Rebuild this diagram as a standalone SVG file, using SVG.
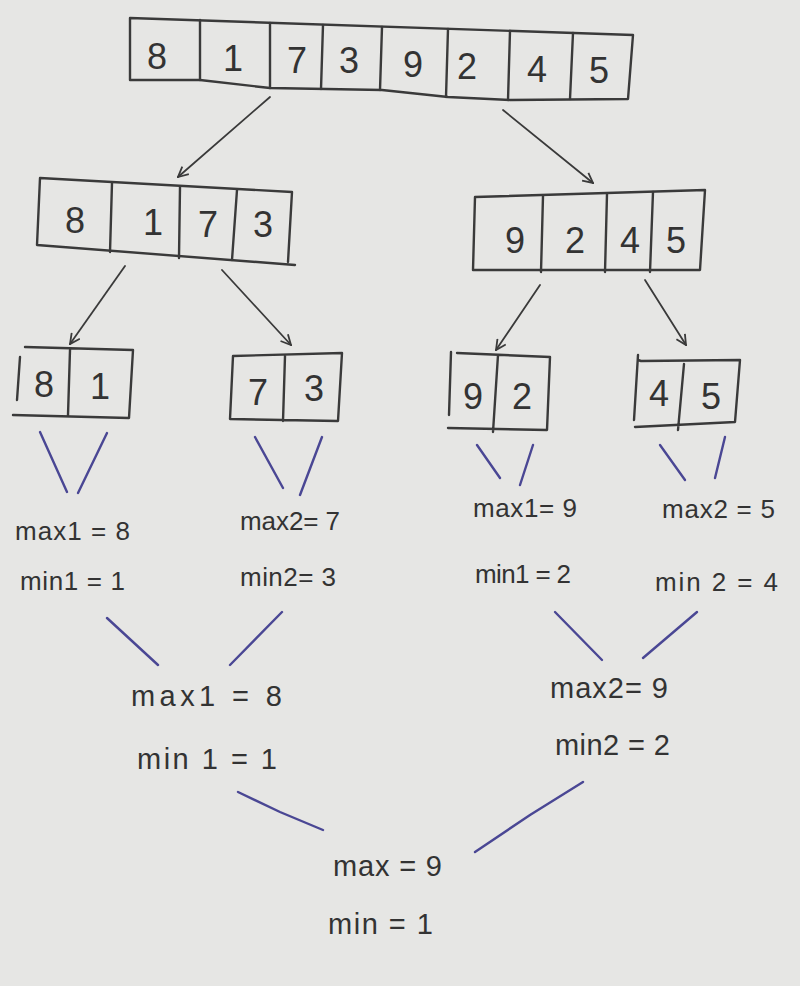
<svg xmlns="http://www.w3.org/2000/svg" width="800" height="986" viewBox="0 0 800 986">
<style>
.bx{fill:none;stroke:#3a3a3a;stroke-width:2.4;stroke-linejoin:round;stroke-linecap:round}
.dg{font-family:"Liberation Sans","DejaVu Sans",sans-serif;font-size:36px;fill:#333;text-anchor:middle;font-weight:normal}
.lb{font-family:"Liberation Sans","DejaVu Sans",sans-serif;font-size:26px;fill:#333}
.lg{font-family:"Liberation Sans","DejaVu Sans",sans-serif;font-size:29px;fill:#333}
.ar{fill:none;stroke:#3a3a3a;stroke-width:1.8;stroke-linecap:round}
.bl{fill:none;stroke:#4a4794;stroke-width:2.4;stroke-linecap:round}
</style>
<defs>
<marker id="ah" viewBox="0 0 12 12" refX="11" refY="6" markerWidth="12" markerHeight="12" markerUnits="userSpaceOnUse" orient="auto">
<path d="M1,1 L11,6 L1,11" fill="none" stroke="#3a3a3a" stroke-width="1.8"/>
</marker>
</defs>
<rect width="800" height="986" fill="#e6e6e4"/>

<g id="arr8">
<path class="bx" d="M130,18 L633,35 L628,99 L510,100 L448,97 L382,90 L270,88 L200,80 L130,80 Z"/>
<path class="bx" d="M200,20 L200,80 M270,23 L270,88 M323,25 L321,89 M382,27 L380,90 M448,29 L446,97 M510,31 L508,100 M573,33 L570,99"/>
<text class="dg" x="157" y="69">8</text>
<text class="dg" x="233" y="71">1</text>
<text class="dg" x="297" y="73">7</text>
<text class="dg" x="349" y="73">3</text>
<text class="dg" x="413" y="77">9</text>
<text class="dg" x="467" y="79">2</text>
<text class="dg" x="537" y="82">4</text>
<text class="dg" x="599" y="83">5</text>
</g>

<g id="arrL">
<path class="bx" d="M40,178 L292,192 L288,262 M40,178 L37,245 L295,265"/>
<path class="bx" d="M112,183 L110,252 M180,187 L179,258 M237,190 L232,260"/>
<text class="dg" x="75" y="233">8</text>
<text class="dg" x="153" y="235">1</text>
<text class="dg" x="208" y="237">7</text>
<text class="dg" x="263" y="237">3</text>
</g>

<g id="arrR">
<path class="bx" d="M475,197 L705,190 L700,270 L473,270 Z"/>
<path class="bx" d="M543,196 L541,272 M607,194 L605,272 M653,192 L650,272"/>
<text class="dg" x="515" y="253">9</text>
<text class="dg" x="575" y="253">2</text>
<text class="dg" x="630" y="253">4</text>
<text class="dg" x="676" y="253">5</text>
</g>

<g id="b81">
<path class="bx" d="M25,347 L133,350 L129,418 L13,415 M20,357 L17,400 M70,350 L68,415"/>
<text class="dg" x="44" y="397">8</text>
<text class="dg" x="100" y="399">1</text>
</g>
<g id="b73">
<path class="bx" d="M233,356 L342,353 L338,421 L230,419 Z M285,356 L283,421"/>
<text class="dg" x="258" y="405">7</text>
<text class="dg" x="314" y="401">3</text>
</g>
<g id="b92">
<path class="bx" d="M457,353 L550,357 L547,430 L448,428 M451,352 L449,415 M498,355 L493,432"/>
<text class="dg" x="473" y="409">9</text>
<text class="dg" x="522" y="409">2</text>
</g>
<g id="b45">
<path class="bx" d="M638,360 L641,361 L740,360 L735,422 L635,427 M638,355 L634,420 M684,364 L678,430"/>
<text class="dg" x="659" y="406">4</text>
<text class="dg" x="711" y="409">5</text>
</g>

<g id="connectors">
<path class="ar" marker-end="url(#ah)" d="M270,97 L178,177"/>
<path class="ar" marker-end="url(#ah)" d="M503,110 L593,183"/>
<path class="ar" marker-end="url(#ah)" d="M125,266 L70,344"/>
<path class="ar" marker-end="url(#ah)" d="M222,270 L291,345"/>
<path class="ar" marker-end="url(#ah)" d="M540,285 L496,350"/>
<path class="ar" marker-end="url(#ah)" d="M645,280 L686,345"/>
<path class="bl" d="M40,432 L67,492 M107,433 L78,493"/>
<path class="bl" d="M255,437 L283,488 M322,437 L300,495"/>
<path class="bl" d="M477,445 L500,478 M533,445 L520,485"/>
<path class="bl" d="M660,445 L685,480 M725,437 L715,478"/>
<path class="bl" d="M107,618 L158,665 M282,612 L230,665"/>
<path class="bl" d="M555,612 L602,660 M697,612 L643,658"/>
<path class="bl" d="M238,792 L280,812 L323,830 M583,782 L530,815 L475,852"/>
</g>

<g id="r1">
<text class="lb" x="15" y="540" textLength="115" lengthAdjust="spacing">max1 = 8</text>
<text class="lb" x="20" y="590" textLength="105" lengthAdjust="spacing">min1 = 1</text>
</g>
<g id="r2">
<text class="lb" x="240" y="530" textLength="100" lengthAdjust="spacing">max2= 7</text>
<text class="lb" x="240" y="586" textLength="96" lengthAdjust="spacing">min2= 3</text>
</g>
<g id="r3">
<text class="lb" x="473" y="517" textLength="104" lengthAdjust="spacing">max1= 9</text>
<text class="lb" x="475" y="583" textLength="96" lengthAdjust="spacing">min1 = 2</text>
</g>
<g id="r4">
<text class="lb" x="662" y="518" textLength="113" lengthAdjust="spacing">max2 = 5</text>
<text class="lb" x="655" y="591" textLength="123" lengthAdjust="spacing">min 2 = 4</text>
</g>
<g id="rL">
<text class="lg" x="131" y="706" textLength="151" lengthAdjust="spacing">max1 = 8</text>
<text class="lg" x="137" y="769" textLength="140" lengthAdjust="spacing">min 1 = 1</text>
</g>
<g id="rR">
<text class="lg" x="550" y="698" textLength="118" lengthAdjust="spacing">max2= 9</text>
<text class="lg" x="555" y="755" textLength="115" lengthAdjust="spacing">min2 = 2</text>
</g>
<g id="rFinal">
<text class="lg" x="333" y="876" textLength="109" lengthAdjust="spacing">max = 9</text>
<text class="lg" x="328" y="934" textLength="105" lengthAdjust="spacing">min = 1</text>
</g>
</svg>
